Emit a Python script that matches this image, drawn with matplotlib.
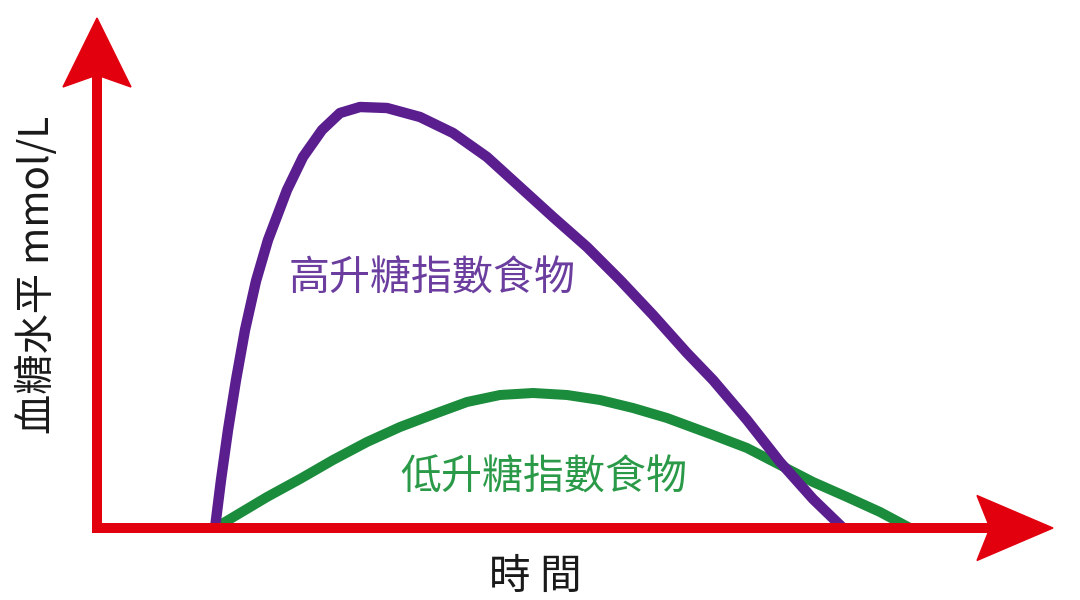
import matplotlib
matplotlib.use("Agg")
import matplotlib.pyplot as plt
from matplotlib.patches import Polygon

plt.rcParams['font.family'] = ['Noto Sans CJK TC', 'DejaVu Sans']

# Data (time, blood glucose)
high_gi_time = [11.8, 12.4, 13.1, 13.9, 14.8, 15.9, 17.1, 19.0, 20.6, 22.5, 24.3, 26.3,
                29.0, 32.3, 35.6, 39.0, 42.3, 45.6, 49.0, 52.3, 55.6, 59.0, 61.6, 65.0,
                68.3, 71.6, 74.6]
high_gi_level = [0.0, 4.8, 9.8, 14.8, 19.8, 24.7, 28.8, 33.8, 37.1, 39.8, 41.5, 42.1,
                 42.0, 41.1, 39.5, 37.1, 34.1, 31.1, 28.1, 24.8, 21.3, 17.5, 14.8, 10.8,
                 6.6, 2.9, 0.0]

low_gi_time = [11.8, 17.0, 20.3, 23.6, 27.0, 30.3, 34.0, 37.0, 40.3, 43.6, 47.0, 50.3,
               53.6, 57.0, 61.6, 65.0, 68.3, 71.6, 75.0, 78.3, 81.3]
low_gi_level = [0.0, 3.1, 4.9, 6.8, 8.6, 10.1, 11.5, 12.6, 13.3, 13.5, 13.3, 12.8,
                12.0, 11.0, 9.3, 8.0, 6.3, 4.6, 3.1, 1.6, 0.0]

high_label = '高升糖指數食物'
low_label = '低升糖指數食物'
y_label = '血糖水平 mmol/L'
x_label = '時 間'

RED = '#e2000f'
PURPLE = '#5b1e8f'
GREEN = '#1b8c3c'

fig = plt.figure(figsize=(10.8, 6.0), dpi=100)
ax = fig.add_axes([0, 0, 1, 1])
ax.set_xlim(-9.7, 98.3)
ax.set_ylim(-7.2, 52.8)
ax.axis('off')

# curves
ax.plot(high_gi_time, high_gi_level, color=PURPLE, lw=7.5, solid_capstyle='butt',
        solid_joinstyle='round', zorder=3)
ax.plot(low_gi_time, low_gi_level, color=GREEN, lw=7.2, solid_capstyle='butt',
        solid_joinstyle='round', zorder=2)

# axes with arrows
ax.plot([0, 0], [-0.5, 45.6], color=RED, lw=7.2, solid_capstyle='butt', zorder=4)
ax.plot([-0.5, 89.5], [0, 0], color=RED, lw=7.2, solid_capstyle='butt', zorder=4)
ax.add_patch(Polygon([[0, 51.0], [3.4, 44.1], [0, 45.3], [-3.4, 44.1]],
                     closed=True, color=RED, zorder=5))
ax.add_patch(Polygon([[95.6, 0], [88.0, 3.25], [89.3, 0], [88.0, -3.25]],
                     closed=True, color=RED, zorder=5))

# labels
ax.text(33.5, 24.9, high_label, color='#6a3d9e', fontsize=29.5, ha='center', va='center')
ax.text(44.7, 5.0, low_label, color='#2a9a48', fontsize=29.5, ha='center', va='center')
ax.text(-6.0, 25.3, y_label, color='#1a1a1a', fontsize=29, rotation=90,
        ha='center', va='center')
ax.text(43.8, -4.9, x_label, color='#1a1a1a', fontsize=30, ha='center', va='center')

fig.savefig('out.png', dpi=100, facecolor='white')
